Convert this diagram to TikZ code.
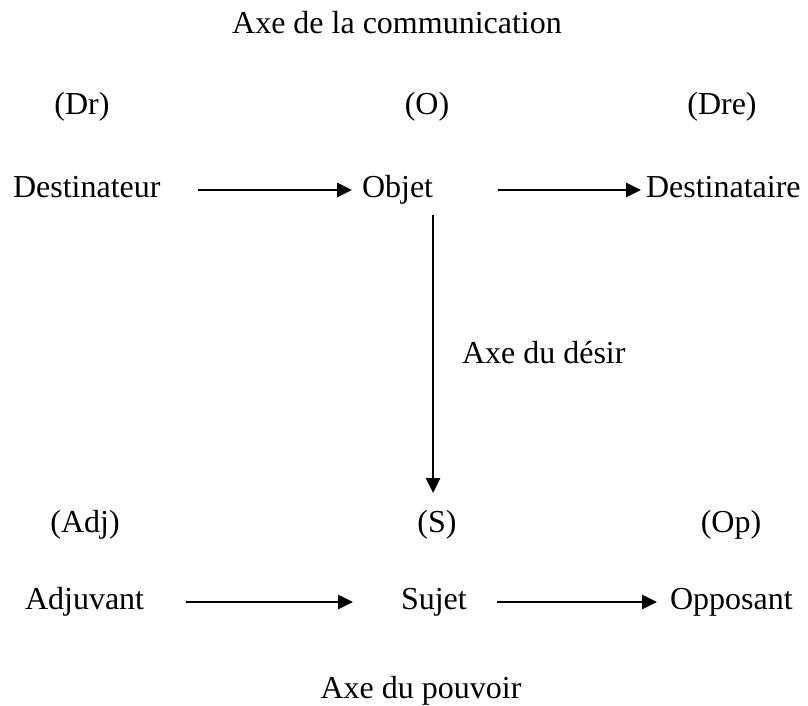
\documentclass[tikz,border=0pt]{standalone}
\usepackage{fontspec}
\setmainfont{Liberation Serif}
\usetikzlibrary{arrows.meta}

\begin{document}
\begin{tikzpicture}[x=1pt, y=-1pt,
    every node/.style={inner sep=0pt, outer sep=0pt, font=\fontsize{32}{38}\selectfont, text height=22pt, text depth=8pt},
    fleche/.style={-{Triangle[length=15pt, width=14pt]}, line width=2.6pt}]
    \useasboundingbox (0,0) rectangle (808,705);
    % axe de la communication
    \node[anchor=base] (titre) at (397,33) {Axe de la communication};
    \node[anchor=base] (dr) at (82,114) {(Dr)};
    \node[anchor=base] (o) at (427,114) {(O)};
    \node[anchor=base] (dre) at (722,114) {(Dre)};
    \node[anchor=base west] (destinateur) at (13,197) {Destinateur};
    \node[anchor=base west] (objet) at (362,197) {Objet};
    \node[anchor=base west] (destinataire) at (646,197) {Destinataire};
    \draw[fleche] ([xshift=37pt]destinateur.east) -- ([xshift=-10pt]objet.west);
    \draw[fleche] ([xshift=65pt]objet.east) -- ([xshift=-5pt]destinataire.west);
    % axe du desir
    \node[anchor=base west] (desir) at (462,363) {Axe du désir};
    % axe du pouvoir
    \node[anchor=base] (adj) at (85,532) {(Adj)};
    \node[anchor=base] (s) at (437,532) {(S)};
    \node[anchor=base] (op) at (731,532) {(Op)};
    \node[anchor=base west] (adjuvant) at (25,609) {Adjuvant};
    \node[anchor=base west] (sujet) at (401,609) {Sujet};
    \node[anchor=base west] (opposant) at (670,609) {Opposant};
    \draw[fleche] ([xshift=42pt]adjuvant.east) -- ([xshift=-48pt]sujet.west);
    \draw[fleche] ([xshift=30pt]sujet.east) -- ([xshift=-13pt]opposant.west);
    \draw[fleche] ([yshift=-10pt]objet.south east) -- ([yshift=17pt]objet.south east |- s.north);
    \node[anchor=base] (pouvoir) at (421,698) {Axe du pouvoir};
\end{tikzpicture}
\end{document}
